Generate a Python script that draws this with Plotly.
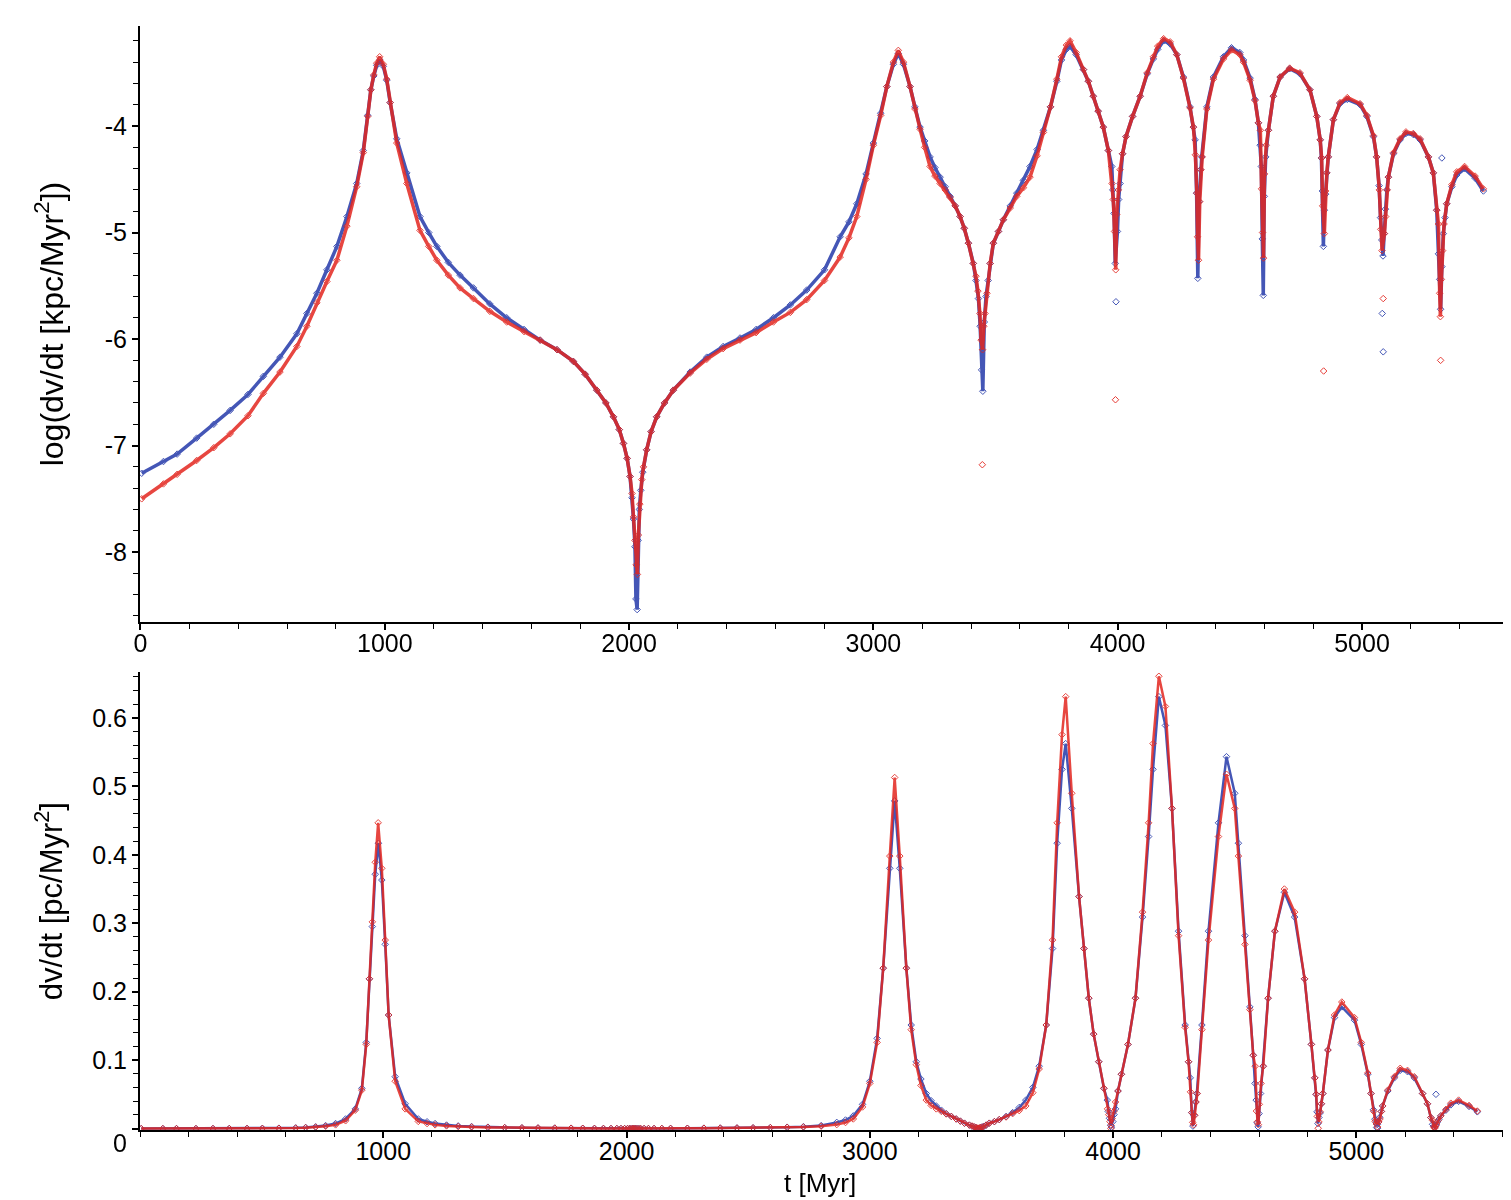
import numpy as np
import plotly.graph_objects as go

# ---------------- data ----------------
# time [Myr] and log10(dv/dt [kpc/Myr^2]) for the two runs
t_blue = [5, 94, 150, 230, 300, 367, 440, 503, 571, 640, 681, 722, 763, 804, 845, 885, 912, 930, 943, 955, 967, 980,
          994, 1008, 1022, 1049, 1090, 1144, 1180, 1213, 1260, 1308, 1363, 1430, 1499, 1570, 1636, 1705, 1772, 1820,
          1868, 1905, 1936, 1960, 1977, 1992, 2004, 2012, 2018, 2024, 2028, 2033, 2037, 2042, 2048, 2056, 2072, 2090,
          2113, 2145, 2181, 2250, 2318, 2385, 2454, 2520, 2591, 2660, 2727, 2800, 2864, 2900, 2932, 2970, 3000, 3030,
          3055, 3082, 3102, 3123, 3150, 3170, 3191, 3210, 3232, 3252, 3273, 3294, 3314, 3335, 3355, 3372, 3389, 3409,
          3420, 3430, 3437, 3443, 3448, 3454, 3461, 3470, 3478, 3491, 3512, 3532, 3560, 3587, 3614, 3641, 3670, 3696,
          3725, 3751, 3770, 3790, 3805, 3830, 3860, 3880, 3900, 3920, 3941, 3962, 3976, 3980, 3985, 3990, 3999, 4004,
          4010, 4020, 4034, 4061, 4092, 4121, 4146, 4164, 4188, 4215, 4242, 4269, 4296, 4310, 4317, 4323, 4328, 4333,
          4339, 4344, 4365, 4392, 4433, 4466, 4500, 4515, 4542, 4562, 4576, 4583, 4588, 4592, 4596, 4600, 4606, 4617,
          4637, 4665, 4704, 4746, 4787, 4815, 4829, 4834, 4838, 4842, 4846, 4851, 4856, 4862, 4883, 4910, 4940, 4992,
          5020, 5047, 5060, 5070, 5076, 5081, 5086, 5091, 5096, 5102, 5108, 5129, 5156, 5180, 5210, 5238, 5272, 5292,
          5306, 5313, 5318, 5322, 5327, 5333, 5340, 5347, 5368, 5388, 5420, 5463, 5497]
log_blue = [-7.26, -7.15, -7.08, -6.93, -6.80, -6.67, -6.52, -6.35, -6.17, -5.95, -5.76, -5.57, -5.35, -5.13, -4.85,
            -4.54, -4.23, -3.90, -3.66, -3.53, -3.43, -3.38, -3.44, -3.57, -3.78, -4.12, -4.44, -4.85, -5.00, -5.13,
            -5.28, -5.40, -5.52, -5.67, -5.80, -5.91, -6.01, -6.10, -6.21, -6.33, -6.48, -6.60, -6.73, -6.85, -6.98,
            -7.12, -7.29, -7.49, -7.69, -7.95, -8.44, -8.54, -7.89, -7.60, -7.42, -7.25, -7.04, -6.87, -6.73, -6.60,
            -6.48, -6.31, -6.17, -6.07, -5.99, -5.91, -5.80, -5.68, -5.54, -5.35, -5.04, -4.90, -4.73, -4.45, -4.16,
            -3.88, -3.63, -3.42, -3.32, -3.42, -3.63, -3.82, -4.01, -4.14, -4.29, -4.39, -4.48, -4.57, -4.66, -4.75,
            -4.85, -4.96, -5.10, -5.29, -5.45, -5.62, -5.88, -6.29, -6.49, -5.84, -5.60, -5.45, -5.29, -5.10, -4.99,
            -4.88, -4.75, -4.63, -4.51, -4.38, -4.22, -4.04, -3.82, -3.58, -3.38, -3.28, -3.25, -3.33, -3.47, -3.58,
            -3.72, -3.86, -4.01, -4.23, -4.38, -4.60, -4.82, -5.29, -4.99, -4.69, -4.54, -4.26, -4.10, -3.91, -3.72,
            -3.51, -3.37, -3.28, -3.20, -3.23, -3.33, -3.54, -3.82, -4.01, -4.13, -4.63, -5.43, -4.71, -4.41, -4.29,
            -3.82, -3.54, -3.35, -3.265, -3.31, -3.38, -3.55, -3.75, -3.97, -4.18, -4.38, -5.06, -5.59, -4.66, -4.29,
            -4.04, -3.72, -3.54, -3.462, -3.51, -3.66, -3.91, -4.13, -4.30, -4.61, -5.13, -4.79, -4.64, -4.44, -4.29,
            -3.94, -3.79, -3.75, -3.80, -3.91, -4.10, -4.29, -4.56, -4.86, -5.07, -5.22, -5.01, -4.78, -4.60, -4.48,
            -4.26, -4.13, -4.07, -4.08, -4.13, -4.29, -4.44, -4.79, -5.20, -5.44, -5.72, -5.32, -5.01, -4.86, -4.73,
            -4.57, -4.46, -4.40, -4.49, -4.61]

t_red = [5, 94, 150, 230, 300, 367, 440, 503, 571, 640, 681, 722, 763, 804, 845, 885, 912, 930, 943, 955, 967, 979,
         994, 1008, 1022, 1049, 1090, 1144, 1180, 1213, 1260, 1308, 1363, 1430, 1499, 1570, 1636, 1705, 1772, 1820,
         1868, 1905, 1936, 1960, 1977, 1992, 2004, 2012, 2018, 2024, 2029, 2034, 2038, 2044, 2052, 2059, 2072, 2090,
         2113, 2145, 2181, 2250, 2318, 2385, 2454, 2520, 2591, 2660, 2727, 2800, 2864, 2900, 2932, 2970, 3000, 3030,
         3055, 3082, 3102, 3123, 3150, 3170, 3191, 3210, 3232, 3252, 3273, 3294, 3314, 3335, 3355, 3372, 3389, 3409,
         3420, 3428, 3436, 3441, 3447, 3452, 3457, 3465, 3478, 3491, 3512, 3532, 3560, 3587, 3614, 3641, 3670, 3696,
         3725, 3751, 3770, 3790, 3805, 3830, 3860, 3880, 3900, 3920, 3941, 3962, 3977, 3982, 3987, 3992, 3996, 4003,
         4010, 4020, 4034, 4061, 4092, 4121, 4146, 4164, 4188, 4215, 4242, 4269, 4296, 4310, 4318, 4324, 4327, 4331,
         4336, 4341, 4346, 4365, 4392, 4433, 4466, 4500, 4515, 4542, 4562, 4576, 4584, 4589, 4593, 4597, 4601, 4608,
         4617, 4637, 4665, 4704, 4746, 4787, 4815, 4829, 4835, 4839, 4846, 4851, 4856, 4862, 4883, 4910, 4940, 4992,
         5020, 5047, 5060, 5071, 5077, 5082, 5092, 5097, 5103, 5108, 5129, 5156, 5180, 5210, 5238, 5272, 5292, 5306,
         5313, 5318, 5321, 5325, 5330, 5336, 5347, 5368, 5388, 5420, 5463, 5497]
log_red = [-7.50, -7.36, -7.27, -7.14, -7.02, -6.89, -6.72, -6.51, -6.31, -6.07, -5.88, -5.66, -5.46, -5.26, -4.94,
           -4.57, -4.25, -3.91, -3.66, -3.52, -3.41, -3.35, -3.42, -3.56, -3.78, -4.16, -4.54, -4.98, -5.13, -5.26,
           -5.40, -5.52, -5.62, -5.74, -5.84, -5.93, -6.01, -6.10, -6.21, -6.33, -6.48, -6.60, -6.73, -6.85, -6.98,
           -7.12, -7.29, -7.45, -7.67, -7.89, -8.12, -8.21, -7.84, -7.55, -7.32, -7.20, -7.04, -6.87, -6.73, -6.60,
           -6.48, -6.32, -6.19, -6.09, -6.01, -5.94, -5.84, -5.75, -5.63, -5.45, -5.23, -5.05, -4.85, -4.50, -4.18,
           -3.90, -3.63, -3.40, -3.29, -3.40, -3.63, -3.84, -4.03, -4.20, -4.38, -4.47, -4.54, -4.60, -4.67, -4.75,
           -4.85, -4.96, -5.10, -5.29, -5.41, -5.55, -5.76, -6.01, -6.10, -5.88, -5.76, -5.57, -5.29, -5.10, -4.99,
           -4.88, -4.77, -4.66, -4.58, -4.48, -4.28, -4.06, -3.82, -3.56, -3.35, -3.24, -3.20, -3.31, -3.47, -3.58,
           -3.72, -3.86, -4.01, -4.23, -4.54, -4.69, -4.99, -5.35, -4.83, -4.60, -4.41, -4.26, -4.10, -3.91, -3.72,
           -3.50, -3.35, -3.25, -3.18, -3.21, -3.33, -3.55, -3.83, -4.01, -4.27, -4.63, -5.04, -5.26, -4.71, -4.41,
           -4.29, -3.84, -3.56, -3.37, -3.286, -3.33, -3.40, -3.57, -3.76, -3.97, -4.04, -4.59, -5.00, -5.24, -4.45,
           -4.18, -4.04, -3.72, -3.54, -3.456, -3.50, -3.66, -3.91, -4.13, -4.30, -4.75, -5.01, -4.61, -4.44, -4.29,
           -3.94, -3.78, -3.733, -3.79, -3.90, -4.09, -4.29, -4.60, -4.97, -5.17, -5.01, -4.85, -4.60, -4.48, -4.25,
           -4.12, -4.055, -4.07, -4.12, -4.29, -4.44, -4.79, -4.92, -5.57, -5.79, -5.44, -5.17, -4.92, -4.73, -4.55,
           -4.43, -4.38, -4.47, -4.59]

# isolated points far below the dips
t_blue_iso = [3993, 5083, 5087, 5327]
log_blue_iso = [-5.65, -5.76, -6.12, -4.30]
t_red_iso = [3446, 3991, 4843, 5087, 5322]
log_red_iso = [-7.18, -6.57, -6.30, -5.62, -6.20]

x_ticks = [0, 1000, 2000, 3000, 4000, 5000]
y_top_ticks = [-8, -7, -6, -5, -4]
y_bot_ticks = [0, 0.1, 0.2, 0.3, 0.4, 0.5, 0.6]

# lower panel shows the same quantity in pc/Myr^2 on a linear scale
def to_pc(v):
    return 1000.0 * 10.0 ** np.asarray(v, dtype=float)

# ---------------- styling ----------------
BLUE = '#4456b6'
RED = '#e3261f'
FONT = 'Liberation Sans, Arial, sans-serif'

fig = go.Figure()

def add_series(t, v, color, xa, ya, lw, opacity, mode='lines+markers'):
    fig.add_trace(go.Scatter(
        x=t, y=v, mode=mode, xaxis=xa, yaxis=ya, opacity=opacity,
        line=dict(color=color, width=lw),
        marker=dict(symbol='diamond-open', size=5, color=color, line=dict(width=1, color=color)),
        showlegend=False, hoverinfo='skip'))

# top panel
add_series(t_blue, log_blue, BLUE, 'x', 'y', 3.5, 1.0)
add_series(t_red, log_red, RED, 'x', 'y', 3.5, 0.85)
add_series(t_blue_iso, log_blue_iso, BLUE, 'x', 'y', 1, 1.0, 'markers')
add_series(t_red_iso, log_red_iso, RED, 'x', 'y', 1, 0.9, 'markers')
# bottom panel
add_series(t_blue, to_pc(log_blue), BLUE, 'x2', 'y2', 2.5, 1.0)
add_series(t_red, to_pc(log_red), RED, 'x2', 'y2', 2.5, 0.85)
add_series(t_blue_iso, to_pc(log_blue_iso), BLUE, 'x2', 'y2', 1, 1.0, 'markers')
add_series(t_red_iso, to_pc(log_red_iso), RED, 'x2', 'y2', 1, 0.9, 'markers')

tickfont = dict(family=FONT, size=25, color='black')
common = dict(showline=True, linecolor='black', linewidth=2, ticks='outside', ticklen=6, tickwidth=1.5,
              tickcolor='black', showgrid=False, zeroline=False, tickfont=tickfont, tickmode='array')

def minor(dt):
    return dict(ticks='outside', ticklen=5, tickwidth=1, tickcolor='black', tickmode='linear',
                tick0=0, dtick=dt, showgrid=False)

# the page body adds an 8px offset, so the figure is sized to end at the window edge
fig.update_layout(
    width=1503, height=1192,
    margin=dict(l=132, r=0, t=18, b=70),
    paper_bgcolor='white', plot_bgcolor='white',
    font=dict(family=FONT, color='black'),
    xaxis=dict(common, domain=[0, 1], anchor='y', range=[-2, 5610], ticklabelstandoff=-8,
               tickvals=x_ticks, ticktext=[str(v) for v in x_ticks], minor=minor(200)),
    yaxis=dict(common, domain=[0.4601, 1.0], anchor='x', range=[-8.657, -3.061],
               tickvals=y_top_ticks, ticktext=[str(v) for v in y_top_ticks], minor=minor(0.2)),
    xaxis2=dict(common, domain=[0, 0.99708], anchor='y2', range=[0, 5619], ticklabelstandoff=-8,
                tickvals=x_ticks[1:], ticktext=[str(v) for v in x_ticks[1:]], minor=minor(200)),
    yaxis2=dict(common, domain=[0, 0.4149], anchor='x2', range=[-0.002, 0.667],
                tickvals=y_bot_ticks, ticktext=[''] + [str(v) for v in y_bot_ticks[1:]], minor=minor(0.02)),
)

fig.add_annotation(text='log(dv/dt [kpc/Myr<sup>2</sup>])', xref='paper', yref='paper',
                   x=-0.0662, y=0.730, xanchor='center', yanchor='middle', textangle=-90,
                   showarrow=False, font=dict(family=FONT, size=32, color='black'))
fig.add_annotation(text='dv/dt [pc/Myr<sup>2</sup>]', xref='paper', yref='paper',
                   x=-0.0662, y=0.2075, xanchor='center', yanchor='middle', textangle=-90,
                   showarrow=False, font=dict(family=FONT, size=31, color='black'))
fig.add_annotation(text='t [Myr]', xref='paper', yref='paper', x=0.496, y=-0.048,
                   xanchor='center', yanchor='middle', showarrow=False,
                   font=dict(family=FONT, size=26, color='black'))
fig.add_annotation(text='0', xref='paper', yref='y2', x=-0.0146, y=0, yshift=-14,
                   xanchor='center', yanchor='middle', showarrow=False,
                   font=dict(family=FONT, size=25, color='black'))

fig.write_html('out.html')
